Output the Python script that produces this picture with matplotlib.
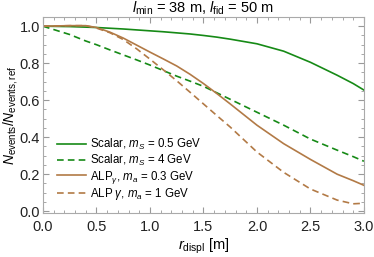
import numpy as np
from matplotlib import pyplot as plt
from matplotlib.ticker import MultipleLocator

plt.rcParams['font.family'] = ['Liberation Sans', 'DejaVu Sans']
plt.rcParams['mathtext.fontset'] = 'custom'
plt.rcParams['mathtext.rm'] = 'Liberation Sans'
plt.rcParams['mathtext.it'] = 'Liberation Sans:italic'

# values
r_vals = [0.0, 0.25, 0.4, 0.5, 0.625, 0.75, 0.875, 1.0, 1.125, 1.25, 1.375, 1.5, 1.625, 1.75,
          2.0, 2.25, 2.5, 2.75, 2.9, 3.0]
scalar_05 = [1.0, 0.998, 0.995, 0.993, 0.989, 0.985, 0.98, 0.975, 0.97, 0.964, 0.958, 0.95, 0.941,
             0.93, 0.905, 0.865, 0.805, 0.735, 0.69, 0.655]
scalar_4 = [1.0, 0.955, 0.92, 0.9, 0.872, 0.845, 0.818, 0.79, 0.76, 0.73, 0.703, 0.675, 0.64,
            0.605, 0.535, 0.465, 0.39, 0.33, 0.295, 0.27]
alp_03 = [1.0, 1.003, 1.003, 0.993, 0.968, 0.936, 0.898, 0.86, 0.823, 0.785, 0.74, 0.69, 0.636,
          0.58, 0.465, 0.365, 0.28, 0.2, 0.165, 0.14]
alp_1 = [1.0, 1.003, 1.003, 0.99, 0.965, 0.928, 0.878, 0.822, 0.764, 0.705, 0.643, 0.58, 0.517,
         0.455, 0.32, 0.21, 0.12, 0.06, 0.04, 0.043]

green = '#168a16'
brown = '#b27a46'

fig = plt.figure(figsize=(3.74, 2.57), dpi=100)
ax = fig.add_axes([0.115, 0.171, 0.858, 0.763])

ax.plot(r_vals, scalar_05, color=green, lw=1.2, label=r'Scalar, $m_S$ = 0.5 GeV')
ax.plot(r_vals, scalar_4, color=green, lw=1.2, ls=(0, (4, 2.5)), label=r'Scalar, $m_S$ = 4 GeV')
ax.plot(r_vals, alp_03, color=brown, lw=1.2, label=r'ALP$_\gamma$, $m_a$ = 0.3 GeV')
ax.plot(r_vals, alp_1, color=brown, lw=1.2, ls=(0, (4, 2.5)), label=r'ALP $\gamma$, $m_a$ = 1 GeV')

ax.set_xlim(0, 3)
ax.set_ylim(-0.01, 1.05)
ax.xaxis.set_major_locator(MultipleLocator(0.5))
ax.xaxis.set_minor_locator(MultipleLocator(0.1))
ax.yaxis.set_major_locator(MultipleLocator(0.2))
ax.yaxis.set_minor_locator(MultipleLocator(0.05))
ax.tick_params(which='both', direction='in', top=True, right=True, color='#999999',
               labelsize=10.5, labelcolor='#222222')
ax.tick_params(which='major', length=4, width=0.8)
ax.tick_params(which='minor', length=2, width=0.6)
ax.tick_params(axis='y', which='major', pad=2)
ax.tick_params(axis='x', which='major', pad=5)
for s in ax.spines.values():
  s.set_color('#aaaaaa')
ax.set_yticks([0.0, 0.2, 0.4, 0.6, 0.8, 1.0])
ax.set_yticklabels(['0.0', '0.2', '0.4', '0.6', '0.8', '1.0'])

ax.set_title(r'$l_{\rm min}$ = 38 m, $l_{\rm fid}$ = 50 m', fontsize=10.5, pad=2)
ax.set_xlabel(r'$r_{\rm displ}$ [m]', fontsize=10.5, labelpad=2)
ax.set_ylabel(r'$N_{\rm events}/N_{\rm events,ref}$', fontsize=10, labelpad=0)

ax.legend(loc='upper left', bbox_to_anchor=(0.03, 0.41), frameon=False, fontsize=8.3,
          handlelength=2.5, handletextpad=0.35, labelspacing=0.05, borderaxespad=0)

fig.savefig('out.png', dpi=100)
